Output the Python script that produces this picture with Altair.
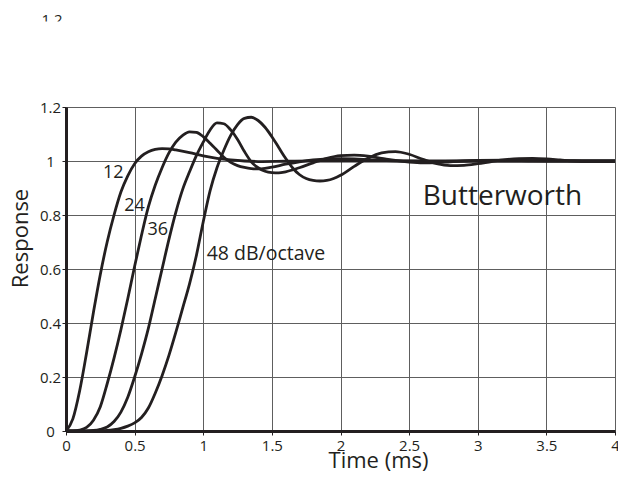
import altair as alt
import pandas as pd

# ---------------- data ----------------
series_names = ["12", "24", "36", "48"]

t12 = [0, 0.05, 0.1, 0.15, 0.2, 0.25, 0.3, 0.35, 0.4, 0.45, 0.5, 0.55, 0.6, 0.65, 0.7,
       0.75, 0.8, 0.9, 1.0, 1.1, 1.2, 1.3, 1.4, 1.6, 1.8, 2.0, 2.5, 3.0, 3.5, 4.0]
r12 = [0, 0.045, 0.15, 0.29, 0.44, 0.58, 0.70, 0.80, 0.885, 0.945, 0.99, 1.018, 1.034, 1.043, 1.046,
       1.045, 1.041, 1.031, 1.019, 1.01, 1.004, 1.0, 0.998, 0.999, 1.0, 1.0, 1.0, 1.0, 1.0, 1.0]

t24 = [0, 0.05, 0.1, 0.15, 0.2, 0.25, 0.3, 0.35, 0.4, 0.45, 0.5, 0.55, 0.6, 0.65, 0.7, 0.75,
       0.8, 0.85, 0.9, 0.95, 1.0, 1.05, 1.1, 1.15, 1.2, 1.25, 1.3, 1.35, 1.4, 1.45, 1.5, 1.6,
       1.7, 1.8, 1.9, 2.0, 2.1, 2.2, 2.3, 2.5, 2.7, 3.0, 3.5, 4.0]
r24 = [0, 0.0, 0.003, 0.013, 0.04, 0.09, 0.175, 0.27, 0.375, 0.49, 0.61, 0.725, 0.83, 0.91, 0.975, 1.03,
       1.07, 1.095, 1.108, 1.106, 1.09, 1.066, 1.04, 1.014, 0.995, 0.983, 0.976, 0.972, 0.971, 0.973, 0.977, 0.988,
       0.997, 1.004, 1.008, 1.009, 1.008, 1.005, 1.002, 0.999, 0.998, 1.0, 1.0, 1.0]

t36 = [0, 0.1, 0.2, 0.25, 0.3, 0.35, 0.4, 0.45, 0.5, 0.55, 0.6, 0.65, 0.7, 0.75, 0.8, 0.85,
       0.9, 0.95, 1.0, 1.05, 1.1, 1.15, 1.2, 1.25, 1.3, 1.35, 1.4, 1.45, 1.5, 1.55, 1.6, 1.7,
       1.8, 1.9, 2.0, 2.1, 2.2, 2.3, 2.4, 2.5, 2.6, 2.7, 2.8, 3.0, 3.2, 3.4, 3.6, 4.0]
r36 = [0, 0.0, 0.002, 0.006, 0.015, 0.035, 0.07, 0.125, 0.2, 0.285, 0.38, 0.49, 0.6, 0.71, 0.81, 0.895,
       0.96, 1.02, 1.07, 1.115, 1.141, 1.138, 1.115, 1.08, 1.035, 0.997, 0.975, 0.962, 0.957, 0.956, 0.96, 0.975,
       0.993, 1.01, 1.02, 1.022, 1.018, 1.01, 1.002, 0.996, 0.993, 0.994, 0.997, 1.002, 1.003, 1.001, 1.0, 1.0]

t48 = [0, 0.2, 0.3, 0.35, 0.4, 0.45, 0.5, 0.55, 0.6, 0.65, 0.7, 0.75, 0.8, 0.85, 0.9, 0.95,
       1.0, 1.05, 1.1, 1.15, 1.2, 1.25, 1.3, 1.35, 1.4, 1.45, 1.5, 1.55, 1.6, 1.65, 1.7, 1.75,
       1.8, 1.85, 1.9, 1.95, 2.0, 2.1, 2.2, 2.3, 2.4, 2.5, 2.6, 2.7, 2.8, 2.9, 3.0, 3.1,
       3.2, 3.3, 3.4, 3.5, 3.6, 3.7, 3.8, 4.0]
r48 = [0, 0.0, 0.002, 0.005, 0.01, 0.018, 0.03, 0.05, 0.085, 0.14, 0.205, 0.28, 0.365, 0.455, 0.545, 0.65,
       0.775, 0.89, 0.975, 1.04, 1.095, 1.135, 1.158, 1.162, 1.15, 1.125, 1.09, 1.05, 1.01, 0.975, 0.95, 0.935,
       0.928, 0.926, 0.928, 0.935, 0.947, 0.98, 1.01, 1.03, 1.035, 1.025, 1.006, 0.99, 0.983, 0.984, 0.99, 0.998,
       1.005, 1.009, 1.01, 1.008, 1.004, 1.0, 0.998, 0.998]

x_ticks = [0, 0.5, 1, 1.5, 2, 2.5, 3, 3.5, 4]
y_ticks = [0, 0.2, 0.4, 0.6, 0.8, 1, 1.2]

curve_label_text = ["12", "24", "36"]
curve_label_t = [0.345, 0.5, 0.668]
curve_label_r = [0.955, 0.835, 0.745]

# ---------------- build tables ----------------
rows = []
for name, ts, rs in zip(series_names, [t12, t24, t36, t48], [r12, r24, r36, r48]):
    for t, r in zip(ts, rs):
        rows.append({"t": t, "r": r, "order": name})
df = pd.DataFrame(rows)

lab_df = pd.DataFrame({"t": curve_label_t, "r": curve_label_r, "text": curve_label_text})
lab48_df = pd.DataFrame({"t": [1.025], "r": [0.656], "text": ["48 dB/octave"]})
bw_df = pd.DataFrame({"t": [3.18], "r": [0.868], "text": ["Butterworth"]})

FONT = "Open Sans"
INK = "#231f20"

xs = alt.Scale(domain=[0, 4], nice=False, zero=False)
ys = alt.Scale(domain=[0, 1.2], nice=False)

x_axis = alt.Axis(values=x_ticks, format="~g", title="Time (ms)", grid=True,
                  gridColor="#5e5e5e", gridWidth=1, domainColor=INK, domainWidth=3,
                  tickColor=INK, tickSize=4, tickWidth=1, labelFont=FONT, labelFontSize=15,
                  labelColor=INK, labelPadding=3, labelFlush=False, labelOverlap=False,
                  titleFont=FONT, titleFontSize=22, titleFontWeight="normal", titleColor=INK,
                  titleX=312, titleY=36.5, titleBaseline="alphabetic", titleAlign="center")
y_axis = alt.Axis(values=y_ticks, format="~g", title="Response", grid=True,
                  gridColor="#5e5e5e", gridWidth=1, domainColor=INK, domainWidth=3,
                  tickColor=INK, tickSize=4, tickWidth=1, labelFont=FONT, labelFontSize=15,
                  labelColor=INK, labelPadding=12, labelAlign="center", labelBaseline="middle",
                  labelFlush=False, labelOverlap=False,
                  titleFont=FONT, titleFontSize=22, titleFontWeight="normal", titleColor=INK,
                  titleAngle=-90, titleX=-39, titleY=131, titleAlign="center",
                  titleBaseline="alphabetic")

lines = alt.Chart(df).mark_line(color=INK, strokeWidth=2.8, interpolate="monotone").encode(
    x=alt.X("t:Q", scale=xs, axis=x_axis),
    y=alt.Y("r:Q", scale=ys, axis=y_axis),
    detail="order:N",
)

labels = alt.Chart(lab_df).mark_text(font=FONT, fontSize=18, color=INK, align="center",
                                      baseline="middle").encode(
    x=alt.X("t:Q", scale=xs), y=alt.Y("r:Q", scale=ys), text="text:N")

label48 = alt.Chart(lab48_df).mark_text(font=FONT, fontSize=19.5, color=INK, align="left",
                                         baseline="middle").encode(
    x=alt.X("t:Q", scale=xs), y=alt.Y("r:Q", scale=ys), text="text:N")

bw = alt.Chart(bw_df).mark_text(font=FONT, fontSize=28, color=INK, align="center",
                                 baseline="middle").encode(
    x=alt.X("t:Q", scale=xs), y=alt.Y("r:Q", scale=ys), text="text:N")

# stray, half-hidden "1.2" at the top-left of the figure
stray = alt.Chart(pd.DataFrame({"text": ["1.2"]})).mark_text(
    font=FONT, fontSize=15, color=INK, align="center", baseline="alphabetic").encode(
    x=alt.value(-14), y=alt.value(-82), text="text:N")
mask = alt.Chart(pd.DataFrame({"a": [0]})).mark_rect(color="white").encode(
    x=alt.value(-35), x2=alt.value(0), y=alt.value(-85.5), y2=alt.value(-70))

chart = alt.layer(lines, labels, label48, bw, stray, mask).properties(
    width=549, height=324,
    autosize=alt.AutoSizeParams(type="none"),
    padding={"left": 58, "top": 99, "right": 3, "bottom": 41},
).configure_view(strokeWidth=0)

chart.save("out.html", embed_options={"renderer": "svg", "actions": False})
